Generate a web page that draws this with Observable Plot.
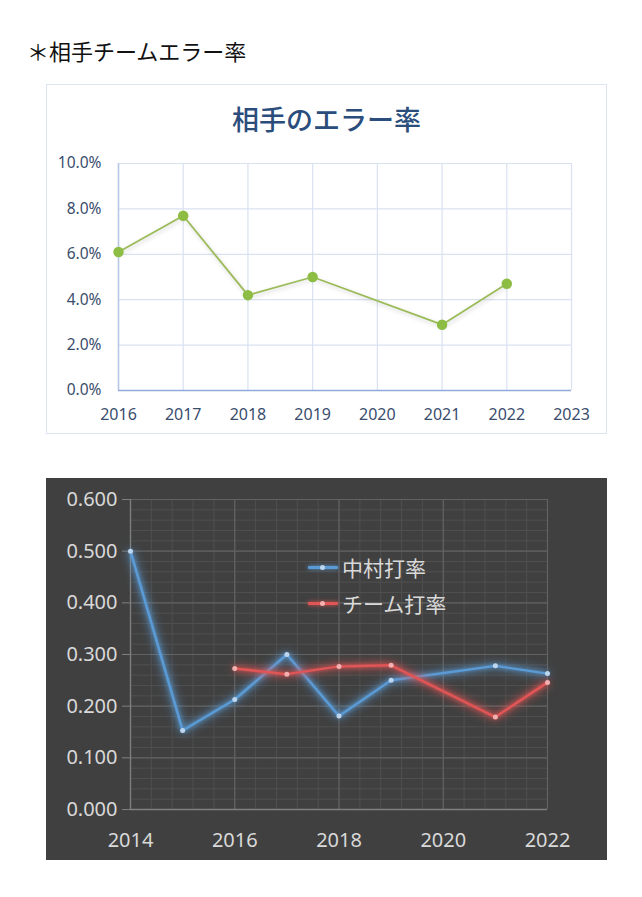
<!DOCTYPE html>
<html><head><meta charset="utf-8">
<script src="https://cdn.jsdelivr.net/npm/d3@7"></script>
<script src="https://cdn.jsdelivr.net/npm/@observablehq/plot@0.6"></script>
<style>
body{margin:0;background:#fff;width:642px;height:897px;position:relative;overflow:hidden;font-family:"Noto Sans CJK JP","Noto Sans",sans-serif;}
#header{position:absolute;left:27px;top:35px;font-size:22px;line-height:30px;color:#111;white-space:nowrap;}
#c1{position:absolute;left:46px;top:84px;width:561px;height:350px;box-sizing:border-box;border:1px solid #dbe4f0;background:#fff;}
#t1{position:absolute;left:0;top:0;width:100%;height:61px;text-align:center;font-size:27px;line-height:68px;color:#2a4d7c;font-weight:500;}
#p1{position:absolute;left:0;top:61px;}
#c2{position:absolute;left:46px;top:478px;width:561px;height:382px;background:#404040;}
#p2{position:absolute;left:0;top:0;}
.leg{position:absolute;left:262px;height:30px;display:flex;align-items:center;color:#d9d9d9;font-size:21px;white-space:nowrap;}
.leg .sw{position:relative;width:30px;height:3px;margin-right:4px;border-radius:1px;}
.leg .sw i{position:absolute;left:12px;top:-1px;width:5px;height:5px;border-radius:50%;}
</style>
</head><body>
<div id="header">＊相手チームエラー率</div>
<div id="c1"><div id="t1">相手のエラー率</div><div id="p1"></div></div>
<div id="c2"><div id="p2"></div>
  <div class="leg" id="l1" style="top:74px"><span class="sw" style="background:#5b9bd5;box-shadow:0 0 4px #5b9bd5"><i style="background:#bcd6f0"></i></span>中村打率</div>
  <div class="leg" id="l2" style="top:110px"><span class="sw" style="background:#e05555;box-shadow:0 0 4px #e05555"><i style="background:#f4b0b0"></i></span>チーム打率</div>
</div>
<script>
// --- Data: opponent error rate ---
const errYears = [2016, 2017, 2018, 2019, 2021, 2022];
const errRates = [0.061, 0.077, 0.042, 0.050, 0.029, 0.047];
const errXTicks = [2016, 2017, 2018, 2019, 2020, 2021, 2022, 2023];
const errYTicks = [0, 0.02, 0.04, 0.06, 0.08, 0.10];

// --- Data: batting averages ---
const nakYears = [2014, 2015, 2016, 2017, 2018, 2019, 2021, 2022];
const nakAvg = [0.500, 0.153, 0.213, 0.300, 0.181, 0.250, 0.278, 0.263];
const teamYears = [2016, 2017, 2018, 2019, 2021, 2022];
const teamAvg = [0.273, 0.262, 0.277, 0.279, 0.179, 0.246];
const batXTicks = [2014, 2016, 2018, 2020, 2022];
const batYTicks = [0, 0.1, 0.2, 0.3, 0.4, 0.5, 0.6];
const batXMinor = d3.range(2014, 2022.001, 0.4);
const batYMinor = d3.range(0, 0.6001, 0.02);

const errData = errYears.map((y, i) => ({year: y, rate: errRates[i]}));
const nakData = nakYears.map((y, i) => ({year: y, avg: nakAvg[i]}));
const teamData = teamYears.map((y, i) => ({year: y, avg: teamAvg[i]}));

function glow(svg) {
  svg.querySelectorAll('g[aria-label="line"]').forEach(g => {
    const c = g.getAttribute("stroke") || (g.querySelector("path") && g.querySelector("path").getAttribute("stroke"));
    g.style.filter = `drop-shadow(0 0 2px ${c}) drop-shadow(0 0 5px ${c})`;
  });
}

// ---- Chart 1 ----
const p1 = Plot.plot({
  width: 559, height: 287,
  marginLeft: 71, marginRight: 35, marginTop: 17, marginBottom: 43,
  style: {fontFamily: "'Noto Sans', sans-serif", background: "transparent"},
  x: {domain: [2016, 2023], ticks: errXTicks, tickFormat: d => String(d), label: null},
  y: {domain: [0, 0.10], ticks: errYTicks, tickFormat: d3.format(".1%"), label: null},
  marks: [
    Plot.gridX(errXTicks, {stroke: "#d9e2f1", strokeOpacity: 1, strokeWidth: 1.2}),
    Plot.gridY(errYTicks, {stroke: "#d9e2f1", strokeOpacity: 1, strokeWidth: 1.2}),
    Plot.ruleX([2016], {stroke: "#b4c7e7", strokeWidth: 1.5}),
    Plot.ruleY([0], {stroke: "#8faadc", strokeWidth: 1.5}),
    Plot.axisX(errXTicks, {tickSize: 0, tickPadding: 18, fontSize: 16, fill: "#3a4d6d", label: null, tickFormat: d => String(d)}),
    Plot.axisY(errYTicks, {tickSize: 0, tickPadding: 17, fontSize: 15.5, fill: "#3a4d6d", label: null, tickFormat: d3.format(".1%")}),
    Plot.line(errData, {x: "year", y: "rate", stroke: "#9bbb59", strokeWidth: 1.8}),
    Plot.dot(errData, {x: "year", y: "rate", r: 4.5, fill: "#8dbd44", stroke: "#8dbd44"})
  ]
});
p1.querySelectorAll('g[aria-label="line"]').forEach(g => g.style.filter = "drop-shadow(1px 2px 2px rgba(0,0,0,0.18))");
document.getElementById("p1").appendChild(p1);

// ---- Chart 2 ----
const p2 = Plot.plot({
  width: 561, height: 382,
  marginLeft: 84, marginRight: 60, marginTop: 21, marginBottom: 51,
  style: {fontFamily: "'Noto Sans', sans-serif", background: "transparent"},
  x: {domain: [2014, 2022], ticks: batXTicks, tickFormat: d => String(d), label: null},
  y: {domain: [0, 0.6], ticks: batYTicks, tickFormat: d3.format(".3f"), label: null},
  marks: [
    Plot.gridX(batXMinor, {stroke: "#4f4f4f", strokeOpacity: 1}),
    Plot.gridY(batYMinor, {stroke: "#4f4f4f", strokeOpacity: 1}),
    Plot.gridX(batXTicks, {stroke: "#626262", strokeOpacity: 1, strokeWidth: 1.2}),
    Plot.gridY(batYTicks, {stroke: "#626262", strokeOpacity: 1, strokeWidth: 1.2}),
    Plot.ruleX([2014], {stroke: "#7f7f7f", strokeWidth: 1.3}),
    Plot.ruleY([0], {stroke: "#7f7f7f", strokeWidth: 1.3}),
    Plot.axisX(batXTicks, {tickSize: 0, tickPadding: 23, fontSize: 20, fill: "#d9d9d9", label: null, tickFormat: d => String(d)}),
    Plot.axisY(batYTicks, {tickSize: 8, tickPadding: 5, fontSize: 20, fill: "#d9d9d9", stroke: "#7f7f7f", label: null, tickFormat: d3.format(".3f")}),
    Plot.line(nakData, {x: "year", y: "avg", stroke: "#5b9bd5", strokeWidth: 2.5}),
    Plot.line(teamData, {x: "year", y: "avg", stroke: "#e05555", strokeWidth: 2.5}),
    Plot.dot(nakData, {x: "year", y: "avg", r: 2.5, fill: "#bcd6f0", stroke: "none"}),
    Plot.dot(teamData, {x: "year", y: "avg", r: 2.5, fill: "#f4b0b0", stroke: "none"})
  ]
});
glow(p2);
document.getElementById("p2").appendChild(p2);
</script>
</body></html>
